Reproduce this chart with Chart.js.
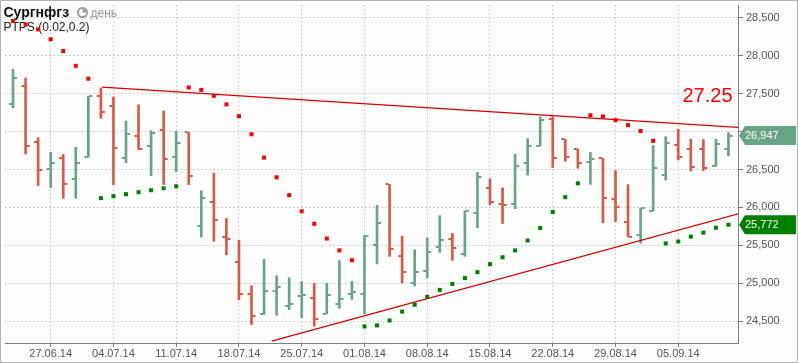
<!DOCTYPE html>
<html>
<head>
<meta charset="utf-8">
<script src="https://cdn.jsdelivr.net/npm/chart.js@4.4.1/dist/chart.umd.min.js"></script>
<style>
  html, body { margin: 0; padding: 0; background: #fff; }
  #wrap { width: 796px; height: 361px; border: 1px solid #b4b4b4; background: #fdfdfd; }
  canvas { display: block; }
</style>
</head>
<body>
<div id="wrap"><canvas id="chart" width="796" height="361" style="width:796px;height:361px"></canvas></div>
<script>
// Daily bars 24.06.14 .. 11.09.14 (trading days only)
const openP = [27366, 27605, 26862, 26510, 26650, 26380, 26667, 27475, 27344, 26650,
    26936, 26810, 27019, 26667, 26989, 25755, 26076, 25610, 25286, 24856,
    24591, 24904, 24699, 24835, 24809, 24597, 24731, 24861, 24861, 25507,
    26305, 25364, 25000, 25161, 25473, 25590, 25390, 25928, 26253, 26050,
    26045, 26592, 26809, 27160, 26900, 26765, 26600, 26648, 26106, 25811,
    25638, 25959, 26423, 26826, 26770, 26775, 26544, 26774];
const highP = [27822, 27705, 26919, 26728, 26698, 26793, 27467, 27575, 27458, 27141,
    27353, 27011, 27271, 27002, 26989, 26220, 26454, 25855, 25568, 24969,
    25317, 25099, 25073, 25023, 25000, 25000, 25299, 25026, 25629, 26028,
    26305, 25620, 25442, 25599, 25893, 25659, 25954, 26462, 26375, 26258,
    26700, 26908, 27195, 27195, 26900, 26770, 26726, 26648, 26483, 26301,
    25993, 26817, 26934, 27030, 26900, 26895, 26900, 26986];
const lowP = [27314, 26706, 26289, 26263, 26120, 26120, 26663, 27175, 26302, 26589,
    26763, 26419, 26302, 26471, 26302, 25611, 25555, 25377, 24783, 24457,
    24591, 24578, 24652, 24548, 24436, 24597, 24670, 24788, 24597, 25256,
    25356, 25004, 24965, 25069, 25408, 25304, 25356, 25733, 26037, 25789,
    25985, 26427, 26809, 26527, 26609, 26518, 26305, 25798, 25811, 25612,
    25529, 25950, 26362, 26626, 26479, 26485, 26544, 26682];
const closeP = [27709, 26810, 26497, 26589, 26315, 26589, 27467, 27262, 26780, 26966,
    26771, 26979, 26641, 26849, 26419, 26120, 25829, 25590, 24856, 24569,
    24895, 24947, 24725, 24848, 24523, 24848, 24796, 24883, 25629, 25798,
    25455, 25147, 25147, 25408, 25573, 25468, 25954, 26397, 26067, 26030,
    26553, 26813, 27151, 26657, 26665, 26592, 26644, 26119, 26002, 25612,
    25993, 26514, 26856, 26665, 26527, 26520, 26830, 26947];

// Parabolic SAR (0.02, 0.2)
const sar = [28457, 28413, 28348, 28218, 28062, 27867, 27698, 26123, 26149, 26175,
    26201, 26227, 26253, 26279, 27581, 27550, 27472, 27359, 27203, 26965,
    26657, 26397, 26162, 25950, 25785, 25590, 25434, 25304, 24432, 24445,
    24510, 24627, 24718, 24822, 24913, 24991, 25069, 25147, 25252, 25343,
    25434, 25564, 25729, 25941, 26136, 26318, 27216, 27199, 27151, 27086,
    27008, 26878, 25525, 25551, 25616, 25668, 25733, 25772];

// trend lines: [bar index, price]
const upperTrend = [[7.1, 27585], [58.5, 27049]];
const lowerTrend = [[20.6, 24238], [58.5, 25949]];

// axis ticks
const xTickIdx = [3, 8, 13, 18, 23, 28, 33, 38, 43, 48, 53];
const xTickLabels = ['27.06.14', '04.07.14', '11.07.14', '18.07.14', '25.07.14', '01.08.14',
    '08.08.14', '15.08.14', '22.08.14', '29.08.14', '05.09.14'];
const yTicks = [24500, 25000, 25500, 26000, 26500, 27000, 27500, 28000, 28500];

const UP = '#68a587';
const DOWN = '#da5846';
const FONT = '"Liberation Sans", Arial, sans-serif';

const barColors = closeP.map((c, i) => c >= openP[i] ? UP : DOWN);
const sarColors = sar.map((v, i) => v > closeP[i] ? '#ff0000' : '#008000');

// open / close ticks on each bar
const ohlcTicks = {
    id: 'ohlcTicks',
    afterDatasetDraw(chart, args) {
        if (args.index !== 0) return;
        const { ctx, scales: { x, y } } = chart;
        ctx.save();
        for (let i = 0; i < openP.length; i++) {
            const px = x.getPixelForValue(i);
            const yo = Math.round(y.getPixelForValue(openP[i]));
            const yc = Math.round(y.getPixelForValue(closeP[i]));
            ctx.fillStyle = barColors[i];
            ctx.fillRect(px - 4, yo - 1, 3, 2);
            ctx.fillRect(px + 1, yc - 1, 3, 2);
        }
        ctx.restore();
    }
};

function priceTag(ctx, chart, value, bg) {
    const cy = chart.scales.y.getPixelForValue(value);
    const x0 = chart.chartArea.right + 1;
    ctx.beginPath();
    ctx.moveTo(x0, cy);
    ctx.lineTo(x0 + 6, cy - 9.5);
    ctx.lineTo(795, cy - 9.5);
    ctx.lineTo(795, cy + 9.5);
    ctx.lineTo(x0 + 6, cy + 9.5);
    ctx.closePath();
    ctx.fillStyle = bg;
    ctx.fill();
    ctx.fillStyle = '#fff';
    ctx.font = '11px ' + FONT;
    ctx.textBaseline = 'middle';
    ctx.textAlign = 'left';
    ctx.fillText(value.toLocaleString('en-US'), x0 + 6, cy + 0.5);
}

const captions = {
    id: 'captions',
    beforeDatasetsDraw(chart) {
        const ctx = chart.ctx;
        ctx.save();
        ctx.textBaseline = 'alphabetic';
        ctx.textAlign = 'left';
        ctx.font = 'bold 14px ' + FONT;
        ctx.fillStyle = '#111';
        ctx.fillText('Сургнфгз', 2.5, 16);
        // clock icon
        ctx.beginPath();
        ctx.arc(81.5, 11.5, 5.5, 0, Math.PI * 2);
        ctx.fillStyle = '#9a9a9a';
        ctx.fill();
        ctx.beginPath();
        ctx.arc(81.5, 11.5, 3.6, 0, Math.PI * 2);
        ctx.fillStyle = '#fff';
        ctx.fill();
        ctx.beginPath();
        ctx.moveTo(81.5, 11.5);
        ctx.arc(81.5, 11.5, 3.6, -Math.PI / 2, 0);
        ctx.closePath();
        ctx.fillStyle = '#9a9a9a';
        ctx.fill();
        ctx.font = '12px ' + FONT;
        ctx.fillStyle = '#999';
        ctx.fillText('день', 89.5, 16);
        ctx.fillStyle = '#222';
        ctx.fillText('PTPS (0.02,0.2)', 2.5, 30);
        ctx.restore();
    },
    afterDraw(chart) {
        const ctx = chart.ctx;
        ctx.save();
        ctx.font = '20px ' + FONT;
        ctx.fillStyle = '#ff0000';
        ctx.textAlign = 'right';
        ctx.textBaseline = 'alphabetic';
        ctx.fillText('27.25', 731.5, 101);
        priceTag(ctx, chart, closeP[closeP.length - 1], UP);
        priceTag(ctx, chart, sar[sar.length - 1], '#008000');
        ctx.restore();
    }
};

// keep the plot area flush with the frame
function noPad(s) {
    s.paddingTop = 0;
    s.paddingBottom = 0;
    s.paddingLeft = 0;
    s.paddingRight = 0;
}

new Chart(document.getElementById('chart'), {
    type: 'bar',
    data: {
        datasets: [
            {
                type: 'bar',
                data: highP.map((h, i) => ({ x: i, y: [lowP[i], h] })),
                backgroundColor: barColors,
                borderWidth: 0,
                barThickness: 2,
                order: 3
            },
            {
                type: 'line',
                data: upperTrend.map(p => ({ x: p[0], y: p[1] })),
                borderColor: '#d40000',
                borderWidth: 1.3,
                pointRadius: 0,
                clip: 0,
                order: 1
            },
            {
                type: 'line',
                data: lowerTrend.map(p => ({ x: p[0], y: p[1] })),
                borderColor: '#d40000',
                borderWidth: 1.3,
                pointRadius: 0,
                clip: 0,
                order: 1
            },
            {
                type: 'line',
                data: sar.map((v, i) => ({ x: i, y: v })),
                showLine: false,
                pointStyle: 'rect',
                pointRadius: 2.85,
                pointBorderWidth: 0,
                pointBackgroundColor: sarColors,
                order: 0
            }
        ]
    },
    options: {
        responsive: false,
        animation: false,
        events: [],
        layout: { padding: 0 },
        plugins: { legend: { display: false }, tooltip: { enabled: false } },
        scales: {
            x: {
                type: 'linear',
                min: -0.64,
                max: 57.76,
                offset: false,
                afterBuildTicks: s => { s.ticks = xTickIdx.map(v => ({ value: v })); },
                afterFit: s => { s.height = 19; noPad(s); },
                grid: { color: '#cfcfcf', tickColor: '#808080', tickLength: 4, offset: false },
                border: { color: '#808080', dash: [2, 2] },
                ticks: {
                    color: '#555',
                    font: { family: FONT, size: 11 },
                    padding: 0,
                    maxRotation: 0,
                    autoSkip: false,
                    callback: (v, i) => xTickLabels[i]
                }
            },
            y: {
                type: 'linear',
                position: 'right',
                min: 24213,
                max: 28669,
                afterBuildTicks: s => { s.ticks = yTicks.map(v => ({ value: v })); },
                afterFit: s => { s.width = 59; noPad(s); },
                grid: { color: '#cfcfcf', tickColor: '#808080', tickLength: 5 },
                border: { color: '#808080', dash: [2, 2] },
                ticks: {
                    color: '#555',
                    font: { family: FONT, size: 11 },
                    padding: 3,
                    autoSkip: false,
                    callback: v => v.toLocaleString('en-US')
                }
            }
        }
    },
    plugins: [ohlcTicks, captions]
});
</script>
</body>
</html>
